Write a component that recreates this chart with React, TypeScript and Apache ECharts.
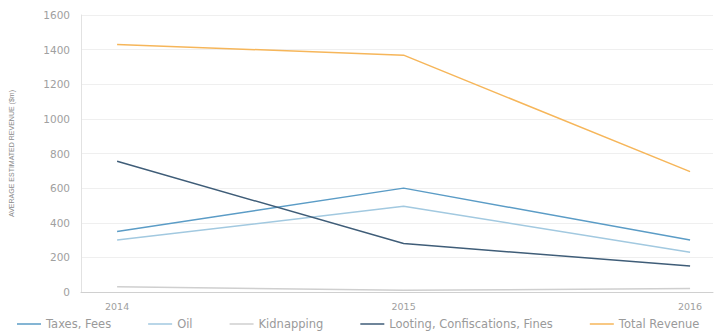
import React, { useEffect, useRef } from "react";
import * as echarts from "echarts";

const years = [2014, 2015, 2016];
const seriesNames = ["Taxes, Fees", "Oil", "Kidnapping", "Looting, Confiscations, Fines", "Total Revenue"];
const taxesFees = [350, 600, 300];
const oil = [300, 495, 230];
const kidnapping = [30, 10, 20];
const looting = [755, 280, 150];
const totalRevenue = [1430, 1368, 695];
const colors = ["#5b9cc6", "#a2c9e0", "#cfcfcf", "#3f5d78", "#f6b65a"];
const yTicks = [0, 200, 400, 600, 800, 1000, 1200, 1400, 1600];

export default function App() {
  const ref = useRef<HTMLDivElement>(null);
  useEffect(() => {
    if (!ref.current) return;
    const chart = echarts.init(ref.current, undefined, { renderer: "svg" });
    const values = [taxesFees, oil, kidnapping, looting, totalRevenue];
    chart.setOption({
      animation: false,
      textStyle: { fontFamily: "DejaVu Sans" },
      grid: { left: 81, right: 7, top: 15, bottom: 39 },
      legend: {
        left: 12,
        top: 313,
        icon: "rect",
        itemWidth: 24,
        itemHeight: 1.5,
        itemGap: 37,
        textStyle: { color: "#9a9a9a", fontSize: 11.5, fontFamily: "DejaVu Sans" },
        data: seriesNames,
      },
      xAxis: {
        type: "value",
        min: 2013.874,
        max: 2016.08,
        axisLine: { show: true, lineStyle: { color: "#d0d0d0", width: 1 } },
        axisTick: { show: false },
        splitLine: { show: false },
        axisLabel: {
          customValues: years,
          color: "#a0a0a0",
          fontSize: 9.5,
          margin: 9,
          formatter: (v: number) => String(v),
        },
      },
      yAxis: {
        type: "value",
        min: yTicks[0],
        max: yTicks[yTicks.length - 1],
        interval: 200,
        name: "AVERAGE ESTIMATED REVENUE ($m)",
        nameLocation: "middle",
        nameGap: 66,
        nameTextStyle: { color: "#8a8a8a", fontSize: 7, fontFamily: "Liberation Sans" },
        axisLine: { show: true, lineStyle: { color: "#e2e2e2" } },
        axisTick: { show: false },
        splitLine: { lineStyle: { color: "#efefef" } },
        axisLabel: { color: "#a0a0a0", fontSize: 10.5, margin: 11, formatter: (v: number) => String(v) },
      },
      series: seriesNames.map((name, i) => ({
        name,
        type: "line",
        symbol: "none",
        color: colors[i],
        lineStyle: { width: 1.5, color: colors[i] },
        data: years.map((y, j) => [y, values[i][j]]),
      })),
    });
    return () => chart.dispose();
  }, []);
  return <div ref={ref} style={{ width: 720, height: 331, position: "absolute", left: 0, top: 0 }} />;
}
